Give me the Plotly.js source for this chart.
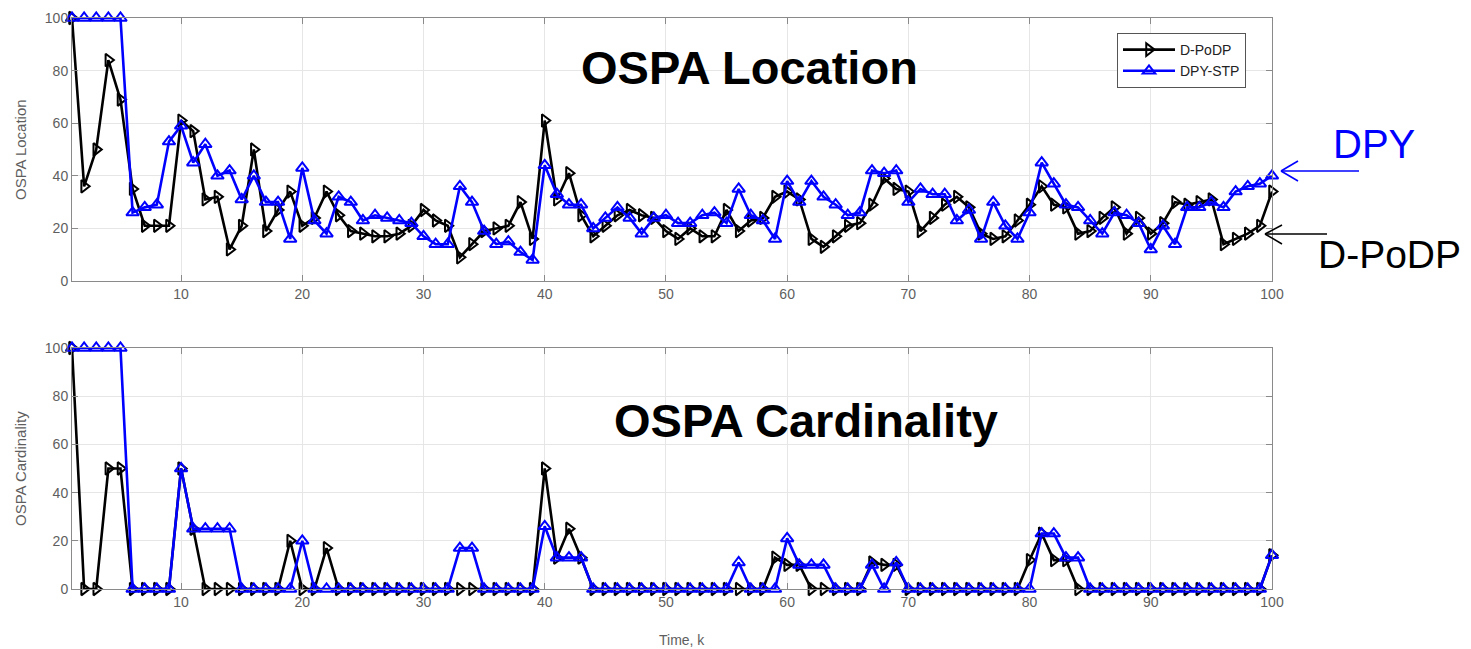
<!DOCTYPE html>
<html>
<head>
<meta charset="utf-8">
<script src="https://cdn.plot.ly/plotly-3.0.1.min.js"></script>
<style>html,body{margin:0;padding:0;background:#fff;}#chart{width:1471px;height:649px;}</style>
</head>
<body>
<div id="chart"></div>
<script>
// ---- data ----
const timeK = [1,2,3,4,5,6,7,8,9,10,11,12,13,14,15,16,17,18,19,20,21,22,23,24,25,26,27,28,29,30,31,32,33,34,35,36,37,38,39,40,41,42,43,44,45,46,47,48,49,50,51,52,53,54,55,56,57,58,59,60,61,62,63,64,65,66,67,68,69,70,71,72,73,74,75,76,77,78,79,80,81,82,83,84,85,86,87,88,89,90,91,92,93,94,95,96,97,98,99,100];

const locPoDP = [100,36,50,84,69,35,21,21,21,61,57,31,32,12,21,50,19,27,34,21,24,34,25,19,18,17,17,18,21,27,23,21,9,14,19,20,21,30,16,61,31,41,25,17,21,25,27,25,24,19,16,20,17,17,27,19,23,24,32,34,31,16,13,17,21,22,29,39,35,34,19,24,29,32,28,18,16,17,23,29,36,29,28,18,19,24,28,18,24,18,22,30,29,30,31,14,16,18,21,34];

const locDPY = [100,100,100,100,100,26,28,29,53,59,45,52,40,42,31,40,30,30,16,43,23,18,32,30,23,25,24,23,22,17,14,14,36,30,19,14,15,11,8,44,33,29,29,20,24,28,24,18,24,25,22,22,25,26,22,35,25,23,16,38,30,38,32,29,25,26,42,41,42,30,35,33,33,23,27,16,30,21,16,26,45,37,29,28,23,18,26,25,22,12,21,14,28,28,30,28,34,36,37,40];

const cardPoDP = [100,0,0,50,50,0,0,0,0,50,25,0,0,0,0,0,0,0,20,0,0,17,0,0,0,0,0,0,0,0,0,0,0,0,0,0,0,0,0,50,13,25,13,0,0,0,0,0,0,0,0,0,0,0,0,0,0,0,13,10,10,0,0,0,0,0,11,10,10,0,0,0,0,0,0,0,0,0,0,12,23,12,12,0,0,0,0,0,0,0,0,0,0,0,0,0,0,0,0,14];

const cardDPY = [100,100,100,100,100,0,0,0,0,50,25,25,25,25,0,0,0,0,0,20,0,0,0,0,0,0,0,0,0,0,0,0,17,17,0,0,0,0,0,26,13,13,13,0,0,0,0,0,0,0,0,0,0,0,0,11,0,0,0,21,10,10,10,0,0,0,10,0,11,0,0,0,0,0,0,0,0,0,0,0,23,23,13,13,0,0,0,0,0,0,0,0,0,0,0,0,0,0,0,14];

const seriesNames = ['D-PoDP', 'DPY-STP'];
const xTickVals = [10,20,30,40,50,60,70,80,90,100];
const yTickVals = [0,20,40,60,80,100];

// ---- styling ----
const FONT = 'Liberation Sans, Arial, Helvetica, sans-serif';
const GRAY = '#5e5e5e';
const blackStyle = {
  line: {color: '#000000', width: 2.6},
  marker: {symbol: 'triangle-right-open', size: 11, color: '#000000', line: {width: 2, color: '#000000'}}
};
const blueStyle = {
  line: {color: '#0000ff', width: 2.6},
  marker: {symbol: 'triangle-up-open', size: 11, color: '#0000ff', line: {width: 2, color: '#0000ff'}}
};

const traces = [
  Object.assign({x: timeK, y: locPoDP, name: seriesNames[0], mode: 'lines+markers', xaxis: 'x', yaxis: 'y', cliponaxis: false, legendgroup: 'a'}, blackStyle),
  Object.assign({x: timeK, y: locDPY, name: seriesNames[1], mode: 'lines+markers', xaxis: 'x', yaxis: 'y', cliponaxis: false, legendgroup: 'b'}, blueStyle),
  Object.assign({x: timeK, y: cardPoDP, name: seriesNames[0], mode: 'lines+markers', xaxis: 'x2', yaxis: 'y2', cliponaxis: false, showlegend: false}, blackStyle),
  Object.assign({x: timeK, y: cardDPY, name: seriesNames[1], mode: 'lines+markers', xaxis: 'x2', yaxis: 'y2', cliponaxis: false, showlegend: false}, blueStyle)
];

// plot area in pixels
const L = 72, R = 1272, T = 18, B = 589;
const W = 1471, H = 649;
function px(x) { return (x - L) / (R - L); }
function py(y) { return (B - y) / (B - T); }

const axisCommon = {
  showgrid: true, gridcolor: '#e6e6e6', gridwidth: 1,
  showline: true, linecolor: '#8a8a8a', linewidth: 1, mirror: 'ticks',
  ticks: 'inside', ticklen: 6, tickcolor: '#8a8a8a', tickwidth: 1,
  zeroline: false,
  tickfont: {family: FONT, size: 14, color: GRAY}
};

const layout = {
  width: W, height: H,
  margin: {l: L, r: W - R, t: T, b: H - B},
  paper_bgcolor: '#ffffff', plot_bgcolor: '#ffffff',
  font: {family: FONT},
  showlegend: true,
  xaxis: Object.assign({}, axisCommon, {anchor: 'y', domain: [0, 1], range: [1, 100], tickvals: xTickVals}),
  yaxis: Object.assign({}, axisCommon, {anchor: 'x', domain: [py(281), 1], range: [0, 100], tickvals: yTickVals}),
  xaxis2: Object.assign({}, axisCommon, {anchor: 'y2', domain: [0, 1], range: [1, 100], tickvals: xTickVals}),
  yaxis2: Object.assign({}, axisCommon, {anchor: 'x2', domain: [0, py(348)], range: [0, 100], tickvals: yTickVals}),
  legend: {
    x: px(1117), y: py(33), xanchor: 'left', yanchor: 'top',
    bgcolor: '#ffffff', bordercolor: '#555555', borderwidth: 1,
    font: {family: FONT, size: 14, color: '#222222'},
    itemwidth: 52, tracegroupgap: 0
  },
  annotations: [
    {text: '<b>OSPA Location</b>', xref: 'paper', yref: 'paper', x: px(750), y: py(68), xanchor: 'center', yanchor: 'middle', showarrow: false, font: {family: FONT, size: 47, color: '#000000'}},
    {text: '<b>OSPA Cardinality</b>', xref: 'paper', yref: 'paper', x: px(806), y: py(420), xanchor: 'center', yanchor: 'middle', showarrow: false, font: {family: FONT, size: 47, color: '#000000'}},
    {text: 'OSPA Location', xref: 'paper', yref: 'paper', x: px(20), y: py(150), xanchor: 'center', yanchor: 'middle', textangle: -90, showarrow: false, font: {family: FONT, size: 15, color: GRAY}},
    {text: 'OSPA Cardinality', xref: 'paper', yref: 'paper', x: px(20), y: py(469), xanchor: 'center', yanchor: 'middle', textangle: -90, showarrow: false, font: {family: FONT, size: 15, color: GRAY}},
    {text: 'Time, k', xref: 'paper', yref: 'paper', x: px(682), y: py(640), xanchor: 'center', yanchor: 'middle', showarrow: false, font: {family: FONT, size: 14, color: GRAY}},
    {text: 'DPY', xref: 'paper', yref: 'paper', x: px(1374), y: py(144), xanchor: 'center', yanchor: 'middle', showarrow: false, font: {family: FONT, size: 40, color: '#0000ff'}},
    {text: 'D-PoDP', xref: 'paper', yref: 'paper', x: px(1389), y: py(255), xanchor: 'center', yanchor: 'middle', showarrow: false, font: {family: FONT, size: 39, color: '#000000'}}
  ],
  shapes: [
    {type: 'line', xref: 'paper', yref: 'paper', x0: px(1359), y0: py(171), x1: px(1281), y1: py(171), line: {color: '#0000ff', width: 1.6}},
    {type: 'line', xref: 'paper', yref: 'paper', x0: px(1281), y0: py(171), x1: px(1298), y1: py(161), line: {color: '#0000ff', width: 1.6}},
    {type: 'line', xref: 'paper', yref: 'paper', x0: px(1281), y0: py(171), x1: px(1298), y1: py(181), line: {color: '#0000ff', width: 1.6}},
    {type: 'line', xref: 'paper', yref: 'paper', x0: px(1327), y0: py(234), x1: px(1265), y1: py(234), line: {color: '#000000', width: 1.6}},
    {type: 'line', xref: 'paper', yref: 'paper', x0: px(1265), y0: py(234), x1: px(1282), y1: py(225), line: {color: '#000000', width: 1.6}},
    {type: 'line', xref: 'paper', yref: 'paper', x0: px(1265), y0: py(234), x1: px(1282), y1: py(244), line: {color: '#000000', width: 1.6}}
  ]
};

Plotly.newPlot('chart', traces, layout, {displayModeBar: false, staticPlot: true});
</script>
</body>
</html>
